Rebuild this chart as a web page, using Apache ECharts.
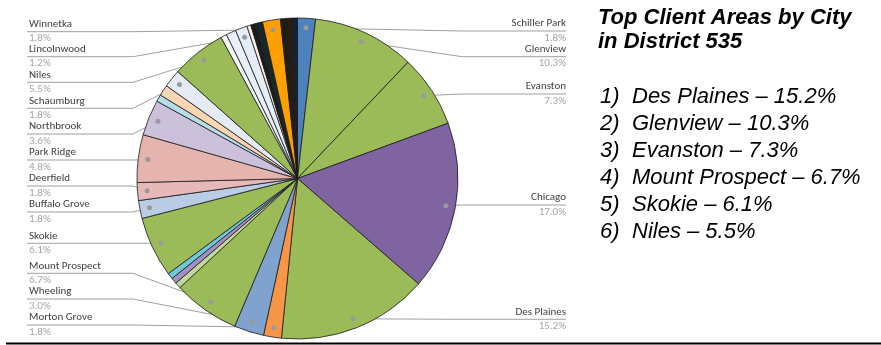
<!DOCTYPE html>
<html><head><meta charset="utf-8">
<script src="https://cdn.jsdelivr.net/npm/echarts@6/dist/echarts.min.js"></script>
<style>html,body{margin:0;padding:0;background:#fff}#c{width:881px;height:345px}</style>
</head><body><div id="c"></div>
<script>
// ---- data (clockwise from 12 o'clock); '' = slice without a visible label
const cities = ['Schiller Park','Glenview','Evanston','Chicago','Des Plaines','Morton Grove','Wheeling','Mount Prospect',
  '','','','Skokie','Buffalo Grove','Deerfield','Park Ridge','Northbrook','','','Schaumburg','Niles',
  '','','Lincolnwood','','','','Winnetka','','',''];
const shares = [1.8,10.3,7.3,17.0,15.2,1.8,3.0,6.7,
  0.6,0.6,0.6,6.1,1.8,1.8,4.8,3.6,0.7,1.1,1.8,5.5,
  0.6,1.0,1.2,0.4,0.5,0.7,1.8,0.6,0.6,0.5];
const sliceColors = ['#4F81BD','#9BBB59','#9BBB59','#8064A2','#9BBB59','#F79646','#7FA2CF','#9BBB59',
  '#C3D69B','#A391C5','#70C6DA','#9BBB59','#B9CDE5','#E6B9B8','#E6B4AE','#CCC1DA','#B7DEE8','#FCD5B5','#E4EBF5','#9BBB59',
  '#F5F7FA','#EAF0F8','#E3EEF8','#FDF2E6','#1C1C1C','#16282B','#FFA000','#1E1E12','#2C1A12','#0F2238'];
const summaryRanks = ['1)','2)','3)','4)','5)','6)'];
const summaryCities = ['Des Plaines','Glenview','Evanston','Mount Prospect','Skokie','Niles'];
const summaryShares = [15.2,10.3,7.3,6.7,6.1,5.5];

// ---- layout
const CX = 297.5, CY = 178.5, R = 160.5, DOT = 0.94;
const labelRowY = {
  'Winnetka':31.7,'Lincolnwood':56.7,'Niles':82.3,'Schaumburg':108.3,'Northbrook':134,'Park Ridge':160,
  'Deerfield':186,'Buffalo Grove':212,'Skokie':243.3,'Mount Prospect':273.3,'Wheeling':299,'Morton Grove':325,
  'Schiller Park':31,'Glenview':56.7,'Evanston':94,'Chicago':205,'Des Plaines':319.3
};
const LEFT_X = 27, RIGHT_X = 566, LEFT_ELBOW = 133, RIGHT_ELBOW = 462;
const FONT = 'Carlito, Lato, sans-serif';

const total = shares.reduce((a,b)=>a+b,0);
const mids = []; { let c = 0; shares.forEach(v => { mids.push(c + v/2); c += v; }); }

const chart = echarts.init(document.getElementById('c'), null, {renderer:'canvas'});

function anchorOf(idx){
  let lay = null;
  try { lay = chart.getModel().getSeriesByIndex(0).getData().getItemLayout(idx); } catch(e) {}
  if (lay && isFinite(lay.startAngle)) {
    const m = (lay.startAngle + lay.endAngle)/2, rr = lay.r*DOT;
    return [lay.cx + rr*Math.cos(m), lay.cy + rr*Math.sin(m)];
  }
  const a = mids[idx]/total*2*Math.PI;
  return [CX + R*DOT*Math.sin(a), CY - R*DOT*Math.cos(a)];
}

const pieData = cities.map((n,i)=>{
  const d = {name: n || ('_'+i), value: shares[i], itemStyle:{color: sliceColors[i]}};
  if (!n) { d.label = {show:false}; d.labelLine = {show:false}; }
  return d;
});

const dotData = [];
cities.forEach((n,i)=>{ if (n) dotData.push([DOT, mids[i]]); });

const summaryText = summaryRanks.map((r,i)=>`{n|${r}}{t|${summaryCities[i]} – ${summaryShares[i].toFixed(1)}%}`).join('\n');

chart.setOption({
  animation:false,
  title:[
    {text:'Top Client Areas by City\nin District 535', left:598, top:5.5, padding:0,
     textStyle:{fontFamily:'Liberation Sans', fontSize:22, fontStyle:'italic', fontWeight:'bold', lineHeight:24, color:'#000'}},
    {text:summaryText, left:600, top:83, padding:0,
     textStyle:{fontFamily:'Liberation Sans', fontSize:22, fontStyle:'italic', fontWeight:'normal', lineHeight:27, color:'#000',
       rich:{n:{width:32, fontFamily:'Liberation Sans', fontSize:22, fontStyle:'italic', lineHeight:27, color:'#000'},
             t:{fontFamily:'Liberation Sans', fontSize:22, fontStyle:'italic', lineHeight:27, color:'#000'}}}}
  ],
  polar:{center:[CX,CY], radius:R},
  angleAxis:{type:'value', min:0, max:total, startAngle:90, clockwise:true, show:false, splitLine:{show:false}},
  radiusAxis:{type:'value', min:0, max:1, show:false, splitLine:{show:false}},
  graphic:[{type:'line', shape:{x1:6,y1:343.5,x2:881,y2:343.5}, style:{stroke:'#000', lineWidth:2}, silent:true}],
  series:[
    {type:'pie', center:[CX,CY], radius:R, startAngle:90, clockwise:true, avoidLabelOverlap:false,
     data:pieData, itemStyle:{borderColor:'#1a1a1a', borderWidth:0.8},
     emphasis:{disabled:true},
     label:{show:true, position:'outside', fontFamily:FONT,
       formatter:p=>`{n|${p.name}}\n{p|${p.value.toFixed(1)}%}`,
       rich:{n:{fontFamily:FONT, fontSize:11, lineHeight:14, color:'#404040'},
             p:{fontFamily:FONT, fontSize:11, lineHeight:15, color:'#A6A6A6'}}},
     labelLine:{show:true, smooth:false, length:10, length2:10, lineStyle:{color:'#A0A0A0', width:1}},
     labelLayout:function(params){
       const idx = params.dataIndex, name = cities[idx];
       if (!name) return {};
       const y = labelRowY[name], a = anchorOf(idx), left = a[0] < CX;
       return {x: left ? LEFT_X+2 : RIGHT_X, y: y, align: left?'left':'right', verticalAlign:'middle',
         labelLinePoints:[a, [left?LEFT_ELBOW:RIGHT_ELBOW, y], [left?LEFT_X:RIGHT_X, y]]};
     }},
    {type:'scatter', coordinateSystem:'polar', data:dotData, symbol:'circle', symbolSize:5, z:5, silent:true,
     itemStyle:{color:'#9A9A9A', opacity:1}}
  ]
});
</script></body></html>
